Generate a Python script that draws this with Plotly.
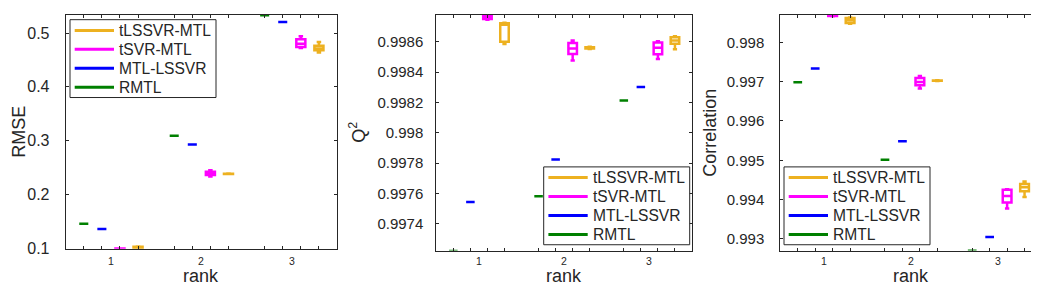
import plotly.graph_objects as go

# ---------------- data ----------------
ranks = [1, 2, 3]
methods = ["RMTL", "MTL-LSSVR", "tSVR-MTL", "tLSSVR-MTL"]
legend_order = ["tLSSVR-MTL", "tSVR-MTL", "MTL-LSSVR", "RMTL"]

# each entry per rank: single value or (lower, q1, median, q3, upper)
rmse_rmtl = [0.1456, 0.3090, 0.5330]
rmse_mtl_lssvr = [0.1360, 0.2927, 0.5206]
rmse_tsvr = [(0.0993, 0.0994, 0.0995, 0.0996, 0.0997),
             (0.2335, 0.2365, 0.2395, 0.2425, 0.2450),
             (0.4720, 0.4740, 0.4800, 0.4886, 0.4940)]
rmse_tlssvr = [(0.0995, 0.0995, 0.1010, 0.1030, 0.1035),
               (0.2380, 0.2382, 0.2385, 0.2388, 0.2390),
               (0.4638, 0.4680, 0.4712, 0.4765, 0.4832)]

q2_rmtl = [0.99722, 0.997582, 0.998213]
q2_mtl_lssvr = [0.997544, 0.997824, 0.998301]
q2_tsvr = [(0.998745, 0.998750, 0.998760, 0.998768, 0.998773),
           (0.998476, 0.998519, 0.998555, 0.998592, 0.998609),
           (0.998487, 0.998517, 0.998560, 0.998595, 0.998603)]
q2_tlssvr = [(0.998585, 0.998600, 0.998712, 0.998722, 0.998725),
             (0.998552, 0.998555, 0.998560, 0.998564, 0.998567),
             (0.998551, 0.998587, 0.998609, 0.998630, 0.998637)]

corr_rmtl = [0.996985, 0.995012, 0.992700]
corr_mtl_lssvr = [0.997332, 0.995483, 0.993050]
corr_tsvr = [(0.998665, 0.998668, 0.998672, 0.998676, 0.998680),
             (0.996827, 0.996911, 0.996993, 0.997092, 0.997141),
             (0.993775, 0.993923, 0.994090, 0.994253, 0.994260)]
corr_tlssvr = [(0.998470, 0.998490, 0.998559, 0.998620, 0.998630),
               (0.997015, 0.997020, 0.997025, 0.997030, 0.997035),
               (0.994064, 0.994213, 0.994312, 0.994394, 0.994460)]

rmse_ticks = [0.1, 0.2, 0.3, 0.4, 0.5]
rmse_ticktext = ["0.1", "0.2", "0.3", "0.4", "0.5"]
q2_ticks = [0.9974, 0.9976, 0.9978, 0.998, 0.9982, 0.9984, 0.9986]
q2_ticktext = ["0.9974", "0.9976", "0.9978", "0.998", "0.9982", "0.9984", "0.9986"]
corr_ticks = [0.993, 0.994, 0.995, 0.996, 0.997, 0.998]
corr_ticktext = ["0.993", "0.994", "0.995", "0.996", "0.997", "0.998"]
rank_labels = ["1", "2", "3"]

# ---------------- styling ----------------
FONT = "Liberation Sans, Arial, Helvetica, sans-serif"
TXT = "#262626"
colors = {"RMTL": "#008000", "MTL-LSSVR": "#0000FF",
          "tSVR-MTL": "#FF00FF", "tLSSVR-MTL": "#EDB120"}
offsets = {"RMTL": -0.3, "MTL-LSSVR": -0.1, "tSVR-MTL": 0.1, "tLSSVR-MTL": 0.3}

W, H = 1039, 297
panels = [
    dict(data=[rmse_rmtl, rmse_mtl_lssvr, rmse_tsvr, rmse_tlssvr],
         yrange=[0.0995, 0.5338], ticks=rmse_ticks, ticktext=rmse_ticktext,
         xpx=(57.7, 329.0), ypx=(7.0, 247.3), tickfont=16, standoff=12,
         title="RMSE", title_x=11,
         legend=(62, 12)),
    dict(data=[q2_rmtl, q2_mtl_lssvr, q2_tsvr, q2_tlssvr],
         yrange=[0.997223, 0.998776], ticks=q2_ticks, ticktext=q2_ticktext,
         xpx=(428.3, 684.0), ypx=(7.3, 249.3), tickfont=15, standoff=9,
         title="Q<sup>2</sup>", title_x=350,
         legend=(535.7, 163.3)),
    dict(data=[corr_rmtl, corr_mtl_lssvr, corr_tsvr, corr_tlssvr],
         yrange=[0.992703, 0.998693], ticks=corr_ticks, ticktext=corr_ticktext,
         xpx=(772.3, 1034.0), ypx=(7.3, 249.3), tickfont=15, standoff=12,
         title="Correlation", title_x=702,
         legend=(776, 163.3)),
]

LEG_W, LEG_H = 146, 80
LEG_LINE = (4.7, 44.0)
LEG_TEXT_X = 47.0
LEG_ROW0, LEG_ROW_DY = 11.0, 19.5


def stats(v):
    if isinstance(v, (int, float)):
        return (v, v, v, v, v)
    return v


def px_x(v):
    return v / W


def px_y(v):
    return (H - v) / H


fig = go.Figure()
layout = dict(width=W, height=H, margin=dict(l=0, r=0, t=0, b=0),
              paper_bgcolor="white", plot_bgcolor="white",
              font=dict(family=FONT, color=TXT), showlegend=False,
              annotations=[], shapes=[])

positions = sorted(r + o for r in ranks for o in offsets.values())

for i, p in enumerate(panels):
    n = "" if i == 0 else str(i + 1)
    xa, ya = "x" + n, "y" + n
    for m, series in zip(methods, p["data"]):
        st = [stats(v) for v in series]
        fig.add_trace(go.Box(
            x=[r + offsets[m] for r in ranks],
            lowerfence=[s[0] for s in st], q1=[s[1] for s in st],
            median=[s[2] for s in st], q3=[s[3] for s in st],
            upperfence=[s[4] for s in st],
            width=0.1, whiskerwidth=0.5, boxpoints=False, name=m,
            line=dict(color=colors[m], width=2.5),
            fillcolor="rgba(255,255,255,0)",
            xaxis=xa, yaxis=ya, showlegend=False, hoverinfo="skip"))

    x0, x1 = p["xpx"]
    y0, y1 = p["ypx"]
    layout["xaxis" + n] = dict(
        domain=[x0 / W, x1 / W], range=[0.5, 3.5], anchor=ya,
        tickmode="array", tickvals=positions, showticklabels=False,
        ticks="inside", ticklen=3, tickcolor=TXT, tickwidth=1,
        showline=True, linecolor=TXT, linewidth=1, mirror="allticks",
        showgrid=False, zeroline=False)
    layout["yaxis" + n] = dict(
        domain=[(H - y1) / H, (H - y0) / H], range=p["yrange"], anchor=xa,
        tickmode="array", tickvals=p["ticks"], ticktext=p["ticktext"],
        ticks="inside", ticklen=3, tickcolor=TXT, tickwidth=1,
        tickfont=dict(size=p["tickfont"], color=TXT, family=FONT),
        ticklabelstandoff=p["standoff"],
        showline=True, linecolor=TXT, linewidth=1, mirror="allticks",
        showgrid=False, zeroline=False)

    # rank tick labels and axis titles
    for r, lab in zip(ranks, rank_labels):
        layout["annotations"].append(dict(
            x=r, xref=xa, y=px_y(260), yref="paper", text=lab,
            showarrow=False, xanchor="center", yanchor="middle",
            font=dict(size=10.5, family=FONT, color=TXT)))
    layout["annotations"].append(dict(
        x=2, xref=xa, y=px_y(275), yref="paper", text="rank",
        showarrow=False, xanchor="center", yanchor="middle",
        font=dict(size=18, family=FONT, color=TXT)))
    layout["annotations"].append(dict(
        x=px_x(p["title_x"]), xref="paper", y=px_y((y0 + y1) / 2), yref="paper",
        text=p["title"], textangle=-90, showarrow=False,
        xanchor="center", yanchor="middle",
        font=dict(size=18, family=FONT, color=TXT)))

    # legend box
    lx, ly = p["legend"]
    layout["shapes"].append(dict(
        type="rect", xref="paper", yref="paper", layer="above",
        x0=px_x(lx), x1=px_x(lx + LEG_W), y0=px_y(ly + LEG_H), y1=px_y(ly),
        fillcolor="white", line=dict(color=TXT, width=1)))
    for k, m in enumerate(legend_order):
        yy = ly + LEG_ROW0 + k * LEG_ROW_DY
        layout["shapes"].append(dict(
            type="line", xref="paper", yref="paper", layer="above",
            x0=px_x(lx + LEG_LINE[0]), x1=px_x(lx + LEG_LINE[1]),
            y0=px_y(yy), y1=px_y(yy),
            line=dict(color=colors[m], width=3)))
        layout["annotations"].append(dict(
            x=px_x(lx + LEG_TEXT_X), xref="paper", y=px_y(yy), yref="paper",
            text=m, showarrow=False, xanchor="left", yanchor="middle",
            font=dict(size=15.6, family=FONT, color=TXT)))

fig.update_layout(**layout)
fig.write_html("out.html")
